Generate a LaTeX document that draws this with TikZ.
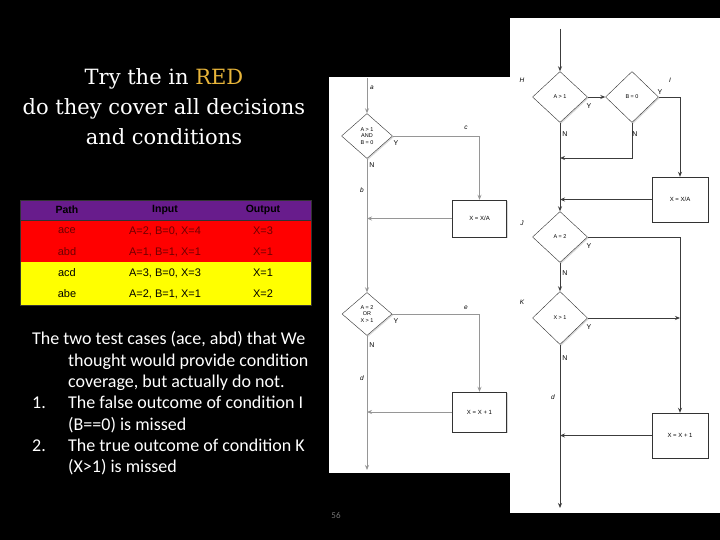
\documentclass[tikz,border=0pt]{standalone}
\usepackage{fontspec}
\setmainfont{DejaVu Serif}
\newfontfamily\bodyfont{Carlito}
\newfontfamily\tablefont{Liberation Sans}
\usetikzlibrary{arrows.meta, shapes.geometric, shadows}
\definecolor{titlegold}{RGB}{232,181,58}
\definecolor{hdrpurple}{RGB}{104,28,140}
\definecolor{rowred}{RGB}{255,0,0}
\definecolor{rowyellow}{RGB}{255,255,0}
\definecolor{redtext}{RGB}{110,0,0}
\definecolor{lgrey}{RGB}{150,150,150}
\definecolor{rgrey}{RGB}{60,60,60}
\tikzset{
  decision/.style = {diamond, draw=black!80, fill=white, inner sep=0pt, align=center,
                     font=\tablefont\fontsize{5.5}{6.5}\selectfont,
                     drop shadow={shadow xshift=1.2pt, shadow yshift=-1.2pt, opacity=0.3}},
  action/.style   = {rectangle, draw=black!80, fill=white, inner sep=0pt,
                     minimum width=54pt, font=\tablefont\fontsize{6}{7}\selectfont,
                     drop shadow={shadow xshift=1.2pt, shadow yshift=-1.2pt, opacity=0.3}},
  flow/.style     = {-{Stealth[length=5pt, width=4pt]}, line width=0.8pt},
  edgelbl/.style  = {font=\tablefont\itshape\fontsize{6.5}{7}\selectfont},
  yn/.style       = {font=\tablefont\fontsize{7}{8}\selectfont},
  thead/.style    = {font=\tablefont\bfseries\fontsize{10.5}{12}\selectfont, text=black},
  tcell/.style    = {font=\tablefont\fontsize{11}{12}\selectfont},
  bodyline/.style = {anchor=base west, text=white, inner sep=0pt,
                     font=\bodyfont\fontsize{18}{21}\selectfont},
}

\begin{document}
\begin{tikzpicture}[x=1pt, y=-1pt]
  \useasboundingbox (0,0) rectangle (720,540);
  \fill[black] (0,0) rectangle (720,540);
  % title
  \node[text=white, align=center, font=\fontsize{21}{30}\selectfont] (title) at (164,107)
    {Try the in \textcolor{titlegold}{RED}\\do they cover all decisions\\and conditions};

  % table
  \fill[hdrpurple] (20,200) rectangle (311,220);
  \fill[rowred] (20,220) rectangle (311,262);
  \fill[rowyellow] (20,262) rectangle (311,305);
  \draw[black!80, line width=0.8pt] (20,200) rectangle (311,305);
  \draw[black!80] (20,220) -- (311,220);
  \node[thead] (hpath) at (67,210) {Path};
  \node[thead] (hinput) at (165,210) {Input};
  \node[thead] (houtput) at (263,210) {Output};
  \foreach \r/\y/\p/\i/\o/\c in {1/231/ace/{A=2, B=0, X=4}/X=3/redtext,
                                 2/252/abd/{A=1, B=1, X=1}/X=1/redtext,
                                 3/273/acd/{A=3, B=0, X=3}/X=1/black,
                                 4/294/abe/{A=2, B=1, X=1}/X=2/black} {
    \node[tcell, text=\c] (p\r) at (67,\y) {\p};
    \node[tcell, text=\c] (i\r) at (165,\y) {\i};
    \node[tcell, text=\c] (o\r) at (263,\y) {\o};
  }

  % notes
  \node[bodyline] (n1) at (32,344) {The two test cases (ace, abd) that We};
  \node[bodyline] (n2) at (68,366) {thought would provide condition};
  \node[bodyline] (n3) at (68,387) {coverage, but actually do not.};
  \node[bodyline] (n4) at (32,408) {1.};
  \node[bodyline] (n5) at (68,408) {The false outcome of condition I};
  \node[bodyline] (n6) at (68,430) {(B==0) is missed};
  \node[bodyline] (n7) at (32,451) {2.};
  \node[bodyline] (n8) at (68,451) {The true outcome of condition K};
  \node[bodyline] (n9) at (68,472) {(X>1) is missed};
  \node[text=black!55, font=\bodyfont\fontsize{9}{10}\selectfont] (pgno) at (336,515) {56};

  % panels
  \fill[white] (329,77) rectangle (510,473);
  \fill[white] (510,18) rectangle (720,513);

  % left chart
  \coordinate (la) at (367,78);
  \coordinate (lend) at (367,470);
  \node[decision, minimum width=51pt, minimum height=45pt] (andd) at (367,136) {A > 1\\AND\\B = 0};
  \node[action, minimum height=37pt] (xdiv) at (479.5,218.5) {X = X/A};
  \node[decision, minimum width=50pt, minimum height=43pt] (ord) at (367,314) {A = 2\\OR\\X > 1};
  \node[action, minimum height=40pt] (xinc) at (479.5,412) {X = X + 1};
  \begin{scope}[lgrey]
    \draw[flow] (la) -- (andd.north);
    \draw[flow] (andd.east) -| (xdiv.north);
    \draw[flow] (xdiv.west) -- (xdiv.west -| andd.south);
    \draw[flow] (andd.south) -- (ord.north);
    \draw[flow] (ord.east) -| (xinc.north);
    \draw[flow] (xinc.west) -- (xinc.west -| ord.south);
    \draw[flow] (ord.south) -- (lend);
  \end{scope}
  \node[edgelbl] (la1) at (372,88) {a};
  \node[edgelbl] (lc1) at (466,128) {c};
  \node[edgelbl] (lb1) at (362,190) {b};
  \node[edgelbl] (le1) at (466,308) {e};
  \node[edgelbl] (ld1) at (362,378) {d};
  \node[yn] (ly1) at (396,143) {Y};
  \node[yn] (ln1) at (372,165) {N};
  \node[yn] (ly2) at (396,321) {Y};
  \node[yn] (ln2) at (372,345) {N};

  % right chart
  \coordinate (rtop) at (560,29);
  \coordinate (njoin) at (560,158);
  \coordinate (rend) at (560,508);
  \node[decision, minimum width=55pt, minimum height=51pt] (dh) at (560,97) {A > 1};
  \node[decision, minimum width=53pt, minimum height=51pt] (di) at (632,97) {B = 0};
  \node[action, minimum width=56pt, minimum height=45pt] (rxdiv) at (680,199.5) {X = X/A};
  \node[decision, minimum width=55pt, minimum height=51pt] (dj) at (560,237) {A = 2};
  \node[decision, minimum width=55pt, minimum height=53pt] (dk) at (560,318) {X > 1};
  \node[action, minimum width=56pt, minimum height=45pt] (rxinc) at (680,435.5) {X = X + 1};
  \begin{scope}[rgrey]
    \draw[flow] (rtop) -- (dh.north);
    \draw[flow] (dh.east) -- (di.west);
    \draw[flow] (di.east) -| (rxdiv.north);
    \draw[flow] (di.south) |- (njoin);
    \draw[flow] (rxdiv.west) -- (rxdiv.west -| dh.south);
    \draw[flow] (dh.south) -- (dj.north);
    \draw[flow] (dj.east) -| (rxinc.north);
    \draw[flow] (dj.south) -- (dk.north);
    \draw[flow] (dk.east) -- (dk.east -| rxinc.north);
    \draw[flow] (rxinc.west) -- (rxinc.west -| dk.south);
    \draw[flow] (dk.south) -- (rend);
  \end{scope}
  \node[edgelbl] (lh) at (522,80) {H};
  \node[edgelbl] (li) at (670,80) {I};
  \node[edgelbl] (lj) at (522,223) {J};
  \node[edgelbl] (lk) at (522,302) {K};
  \node[edgelbl] (ld2) at (553,397) {d};
  \node[yn] (ry1) at (589,106) {Y};
  \node[yn] (ry2) at (660,92) {Y};
  \node[yn] (ry3) at (589,246) {Y};
  \node[yn] (ry4) at (589,327) {Y};
  \node[yn] (rn1) at (565,134) {N};
  \node[yn] (rn2) at (635,134) {N};
  \node[yn] (rn3) at (565,273) {N};
  \node[yn] (rn4) at (565,358) {N};
\end{tikzpicture}
\end{document}
